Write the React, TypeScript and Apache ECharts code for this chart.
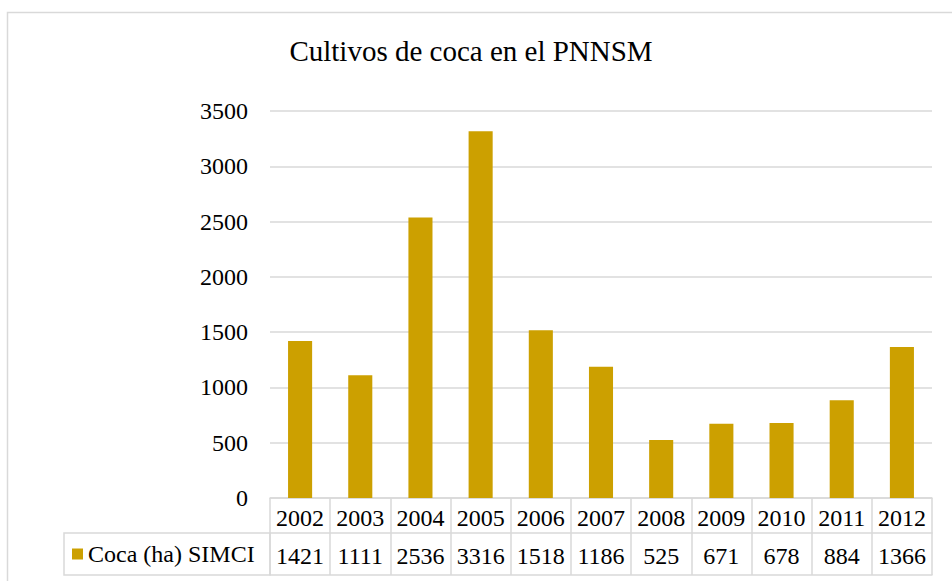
import React, { useEffect, useRef } from "react";
import * as echarts from "echarts";

const years = ["2002", "2003", "2004", "2005", "2006", "2007", "2008", "2009", "2010", "2011", "2012"];
const cocaHa = [1421, 1111, 2536, 3316, 1518, 1186, 525, 671, 678, 884, 1366];
const seriesName = "Coca (ha) SIMCI";
const chartTitle = "Cultivos de coca en el PNNSM";

const FONT = "'Liberation Serif', 'Times New Roman', serif";
const LINE = "#d9d9d9";
const BAR = "#CCA000";

export default function App() {
  const ref = useRef<HTMLDivElement>(null);
  useEffect(() => {
    if (!ref.current) return;
    const chart = echarts.init(ref.current, undefined, { renderer: "svg" });
    chart.setOption({
      animation: false,
      backgroundColor: "#ffffff",
      title: {
        text: chartTitle,
        left: 471,
        textAlign: "center",
        top: 36,
        padding: 0,
        textStyle: { fontFamily: FONT, fontSize: 29, fontWeight: "normal", color: "#000" },
      },
      legend: {
        data: [seriesName],
        left: 72,
        top: 542,
        padding: 0,
        itemWidth: 11,
        itemHeight: 11,
        icon: "rect",
        textStyle: { fontFamily: FONT, fontSize: 24, color: "#000" },
      },
      grid: { left: 270, right: 20, top: 111, bottom: 83, containLabel: false },
      xAxis: [
        {
          type: "category",
          data: years,
          position: "bottom",
          boundaryGap: true,
          axisLine: { show: true, lineStyle: { color: LINE, width: 1.5 } },
          axisTick: { show: true, interval: 0, length: 35, lineStyle: { color: LINE, width: 1.5 } },
          axisLabel: { interval: 0, hideOverlap: false, margin: 8, fontFamily: FONT, fontSize: 24, color: "#000" },
          splitLine: { show: false },
        },
        {
          type: "category",
          data: cocaHa.map((v) => String(v)),
          position: "bottom",
          offset: 35,
          boundaryGap: true,
          axisLine: { show: true, lineStyle: { color: LINE, width: 1.5 } },
          axisTick: { show: true, interval: 0, length: 42, lineStyle: { color: LINE, width: 1.5 } },
          axisLabel: { interval: 0, hideOverlap: false, margin: 11, fontFamily: FONT, fontSize: 24, color: "#000" },
          splitLine: { show: false },
        },
        {
          type: "category",
          data: years,
          position: "bottom",
          offset: 77,
          boundaryGap: true,
          axisLine: { show: true, lineStyle: { color: LINE, width: 1.5 } },
          axisTick: { show: false },
          axisLabel: { show: false },
          splitLine: { show: false },
        },
      ],
      yAxis: {
        type: "value",
        min: 0,
        max: 3500,
        interval: 500,
        axisLine: { show: false },
        axisTick: { show: false },
        axisLabel: {
          margin: 22,
          fontFamily: FONT,
          fontSize: 24,
          color: "#000",
          formatter: (v: number) => String(v),
        },
        splitLine: { show: true, lineStyle: { color: LINE, width: 1.5 } },
      },
      series: [
        {
          name: seriesName,
          type: "bar",
          xAxisIndex: 0,
          data: cocaHa,
          barWidth: "40%",
          itemStyle: { color: BAR },
        },
      ],
      graphic: [
        {
          type: "rect",
          shape: { x: 7.5, y: 12.5, width: 1000, height: 1000 },
          style: { fill: "none", stroke: LINE, lineWidth: 1.5 },
          silent: true,
          z: -10,
        },
        {
          type: "rect",
          shape: { x: 64, y: 533, width: 206, height: 42 },
          style: { fill: "none", stroke: LINE, lineWidth: 1.5 },
          silent: true,
        },
      ],
    });
    return () => chart.dispose();
  }, []);
  return (
    <div
      ref={ref}
      style={{ position: "fixed", left: 0, top: 0, width: 952, height: 581 }}
    />
  );
}
